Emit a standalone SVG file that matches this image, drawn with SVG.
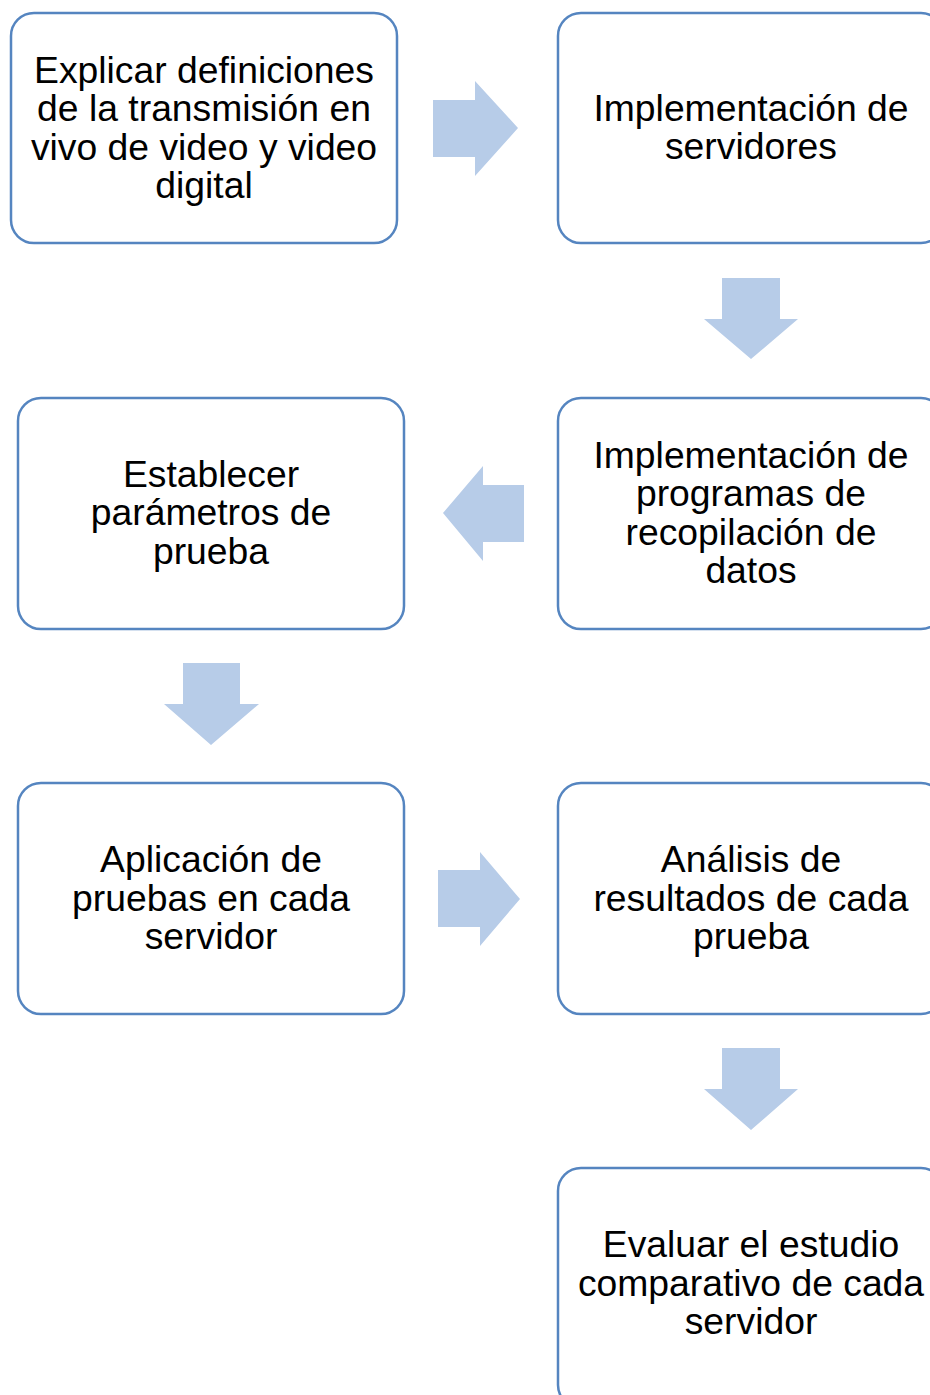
<svg xmlns="http://www.w3.org/2000/svg" width="930" height="1395" viewBox="0 0 930 1395">
<style>
.box{fill:#fff;stroke:#5585C0;stroke-width:2.5}
.arr{fill:#B7CCE8}
text{font-family:"Liberation Sans",Arial,sans-serif;font-size:37.3px;fill:#000;text-anchor:middle}
</style>
<rect width="930" height="1395" fill="#fff"/>
<g id="n1"><rect class="box" x="11" y="13" width="386" height="230" rx="23"/>
<text x="204" y="83">Explicar definiciones</text><text x="204" y="121">de la transmisión en</text><text x="204" y="160">vivo de video y video</text><text x="204" y="198">digital</text></g>
<g id="n2"><rect class="box" x="558" y="13" width="386" height="230" rx="23"/>
<text x="751" y="121">Implementación de</text><text x="751" y="159">servidores</text></g>
<g id="n3"><rect class="box" x="18" y="398" width="386" height="231" rx="23"/>
<text x="211" y="487">Establecer</text><text x="211" y="525">parámetros de</text><text x="211" y="564">prueba</text></g>
<g id="n4"><rect class="box" x="558" y="398" width="386" height="231" rx="23"/>
<text x="751" y="468">Implementación de</text><text x="751" y="506">programas de</text><text x="751" y="545">recopilación de</text><text x="751" y="583">datos</text></g>
<g id="n5"><rect class="box" x="18" y="783" width="386" height="231" rx="23"/>
<text x="211" y="872">Aplicación de</text><text x="211" y="911">pruebas en cada</text><text x="211" y="949">servidor</text></g>
<g id="n6"><rect class="box" x="558" y="783" width="386" height="231" rx="23"/>
<text x="751" y="872">Análisis de</text><text x="751" y="911">resultados de cada</text><text x="751" y="949">prueba</text></g>
<g id="n7"><rect class="box" x="558" y="1168" width="386" height="240" rx="23"/>
<text x="751" y="1257">Evaluar el estudio</text><text x="751" y="1296">comparativo de cada</text><text x="751" y="1334">servidor</text></g>
<g id="connectors">
<polygon class="arr" points="433,100 475,100 475,81 518,128 475,176 475,157 433,157"/>
<polygon class="arr" points="722,278 780,278 780,319 798,319 751,359 704,319 722,319"/>
<polygon class="arr" points="524,485 483,485 483,466 443,513 483,561 483,542 524,542"/>
<polygon class="arr" points="183,663 240,663 240,704 259,704 211,745 164,704 183,704"/>
<polygon class="arr" points="438,870 480,870 480,852 520,899 480,946 480,927 438,927"/>
<polygon class="arr" points="722,1048 780,1048 780,1089 798,1089 751,1130 704,1089 722,1089"/>
</g>
</svg>
